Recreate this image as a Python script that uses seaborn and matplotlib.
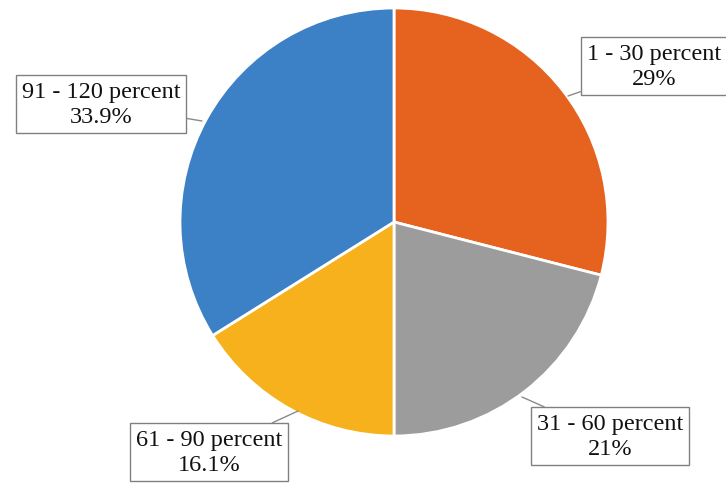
import matplotlib
matplotlib.use("Agg")
import matplotlib.pyplot as plt
import seaborn as sns

categories = ["1 - 30 percent", "31 - 60 percent", "61 - 90 percent", "91 - 120 percent"]
shares = [29, 21, 16.1, 33.9]
share_labels = ["29%", "21%", "16.1%", "33.9%"]
colors = ["#E5631F", "#9C9C9C", "#F6B11C", "#3C80C6"]

sns.set_theme(style="white")
plt.rcParams["font.family"] = ["Liberation Serif", "DejaVu Serif"]

W, H = 726, 489
fig = plt.figure(figsize=(W / 100, H / 100), dpi=100)
ax = fig.add_axes([0, 0, 1, 1])
cx, cy, r = 394, 223, 214

ax.pie(shares, colors=colors, startangle=90, counterclock=False, radius=1,
       wedgeprops=dict(edgecolor="white", linewidth=2))

ax.set_xlim(-cx / r, (W - cx) / r)
ax.set_ylim(-(H - cy) / r, cy / r)
ax.set_aspect("equal")
ax.axis("off")

def P(px, py):
    return ((px - cx) / r, (cy - py) / r)

# label centre (px) and anchor on the pie (px)
label_pos = [(654, 67), (610, 437), (209, 453), (101, 105)]
anchor_pos = [(568, 97), (522, 398), (298, 412), (202, 122)]

for cat, lab, lp, ap in zip(categories, share_labels, label_pos, anchor_pos):
    ax.annotate(f"{cat}\n{lab}", xy=P(*ap), xytext=P(*lp), ha="center", va="center",
                fontsize=17.5, color="#111111", linespacing=1.2,
                bbox=dict(boxstyle="square,pad=0.25", fc="white", ec="#808080", lw=1.0),
                arrowprops=dict(arrowstyle="-", color="#8a8a8a", lw=1.0, shrinkA=0, shrinkB=0))

fig.savefig("out.png", dpi=100)
